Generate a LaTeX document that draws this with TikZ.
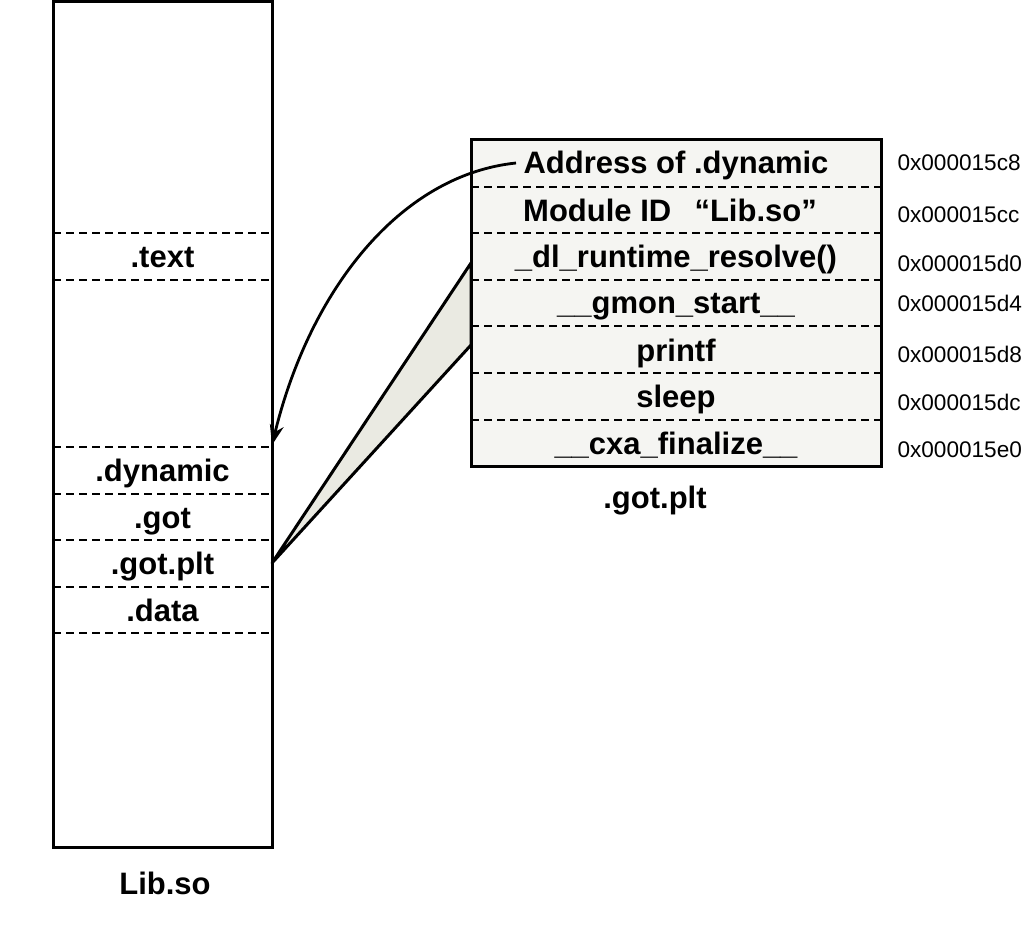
\documentclass[tikz,border=0pt]{standalone}
\usepackage{fontspec}
\setmainfont{Liberation Sans}
\usetikzlibrary{arrows.meta}
\definecolor{tablegray}{RGB}{245,245,242}
\definecolor{wedgegray}{RGB}{234,234,226}
\tikzstyle{layout}=[x=0.5pt, y=-0.5pt, line width=1.5pt, font=\fontsize{15.5}{18}\selectfont\bfseries]
\tikzstyle{sect}=[inner sep=3pt, text height=11pt, text depth=0pt]
\tikzstyle{entry}=[inner sep=3pt, text height=11pt, text depth=0pt]
\tikzstyle{addr}=[inner sep=0pt, anchor=west, text height=8pt, text depth=0pt, font=\fontsize{11.3}{13}\selectfont]
\tikzstyle{sep}=[line width=0.9pt, dash pattern=on 4pt off 2.5pt]
\tikzstyle{ptr}=[-{Stealth[length=10pt,width=7pt]}, line width=1.4pt]
\tikzstyle{wedge}=[fill=wedgegray, draw=black, line width=1.5pt, line join=round]
\newcommand{\colL}{53}
\newcommand{\colR}{272}
\newcommand{\tabL}{471}
\newcommand{\tabR}{881}
\begin{document}
\begin{tikzpicture}[layout]
		\useasboundingbox (0,0) rectangle (1024,931);
		
		%The Lib.so column
		\draw (\colL,1.5) rectangle (\colR,847);
		\foreach \y in {233,280,447,494,540,587,633}
			\draw[sep] (\colL,\y) -- (\colR,\y);
		\node[sect] (text) at (162.5,257) {.text};
		\node[sect] (dyn) at (162.5,470) {.dynamic};
		\node[sect] (got) at (162.5,517) {.got};
		\node[sect] (gotplt) at (162.5,563) {.got.plt};
		\node[sect] (data) at (162.5,610) {.data};
		\node[sect] (lib) at (165,883) {Lib.so};
		\coordinate (dyntop) at (\colR,445);
		\coordinate (gp) at (\colR,563);
		
		%The .got.plt table
		\fill[tablegray] (\tabL,140) rectangle (\tabR,466);
		\coordinate (w1) at (\tabL,263);
		\coordinate (w2) at (\tabL,345);
		\filldraw[wedge] (gp) -- (w1) -- (w2) -- cycle;
		\draw (\tabL,140) rectangle (\tabR,466);
		\foreach \y in {187,233,280,326,373,420}
			\draw[sep] (\tabL,\y) -- (\tabR,\y);
		\node[entry] (r0) at (676,163) {Address of .dynamic};
		\node[entry] (r1) at (670,210) {Module ID\hspace{0.75em}“Lib.so”};
		\node[entry] (r2) at (676,257) {\_dl\_runtime\_resolve()};
		\node[entry] (r3) at (676,303) {\_\_gmon\_start\_\_};
		\node[entry] (r4) at (676,350) {printf};
		\node[entry] (r5) at (676,396) {sleep};
		\node[entry] (r6) at (676,443) {\_\_cxa\_finalize\_\_};
		\node[entry] (cap) at (655,497) {.got.plt};
		
		%The addresses
		\node[addr] (a0) at (896,163) {0x000015c8};
		\node[addr] (a1) at (896,215) {0x000015cc};
		\node[addr] (a2) at (896,263) {0x000015d0};
		\node[addr] (a3) at (896,304) {0x000015d4};
		\node[addr] (a4) at (896,354) {0x000015d8};
		\node[addr] (a5) at (896,402) {0x000015dc};
		\node[addr] (a6) at (896,449) {0x000015e0};
		
		%The pointer to .dynamic
		\draw[ptr] (r0.west) .. controls (400,175) and (310,290) .. (dyntop);
\end{tikzpicture}
\end{document}
